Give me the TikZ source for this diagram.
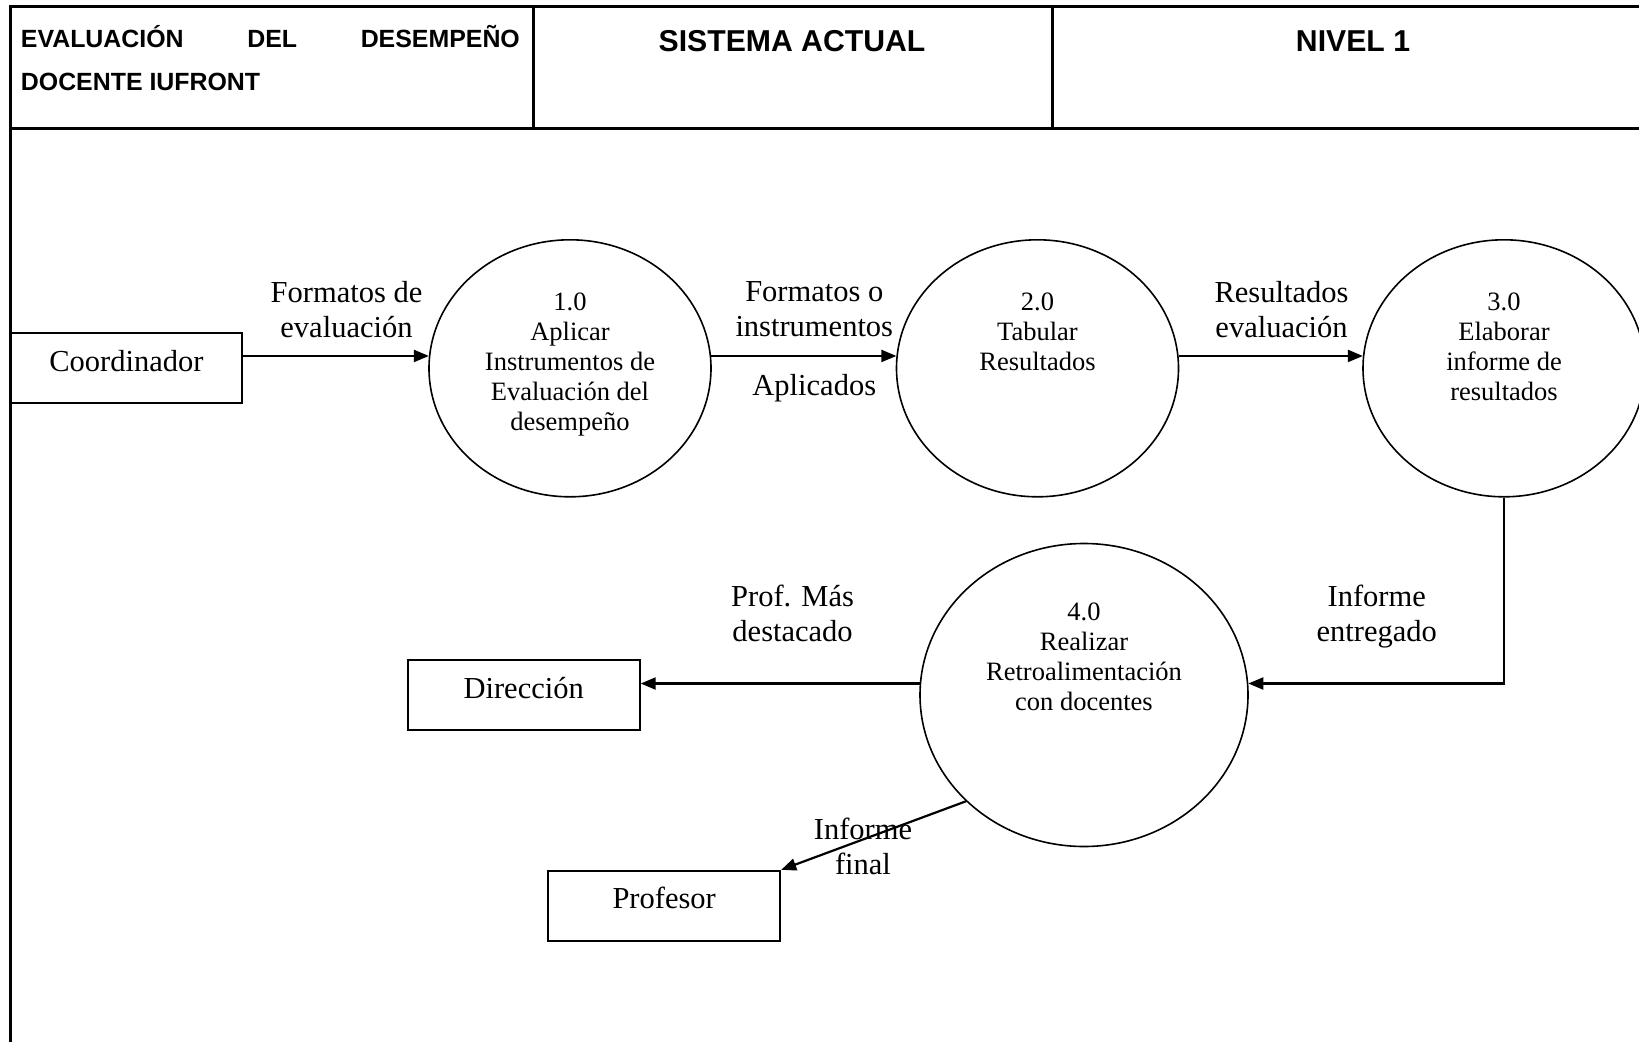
\documentclass[tikz,border=0pt]{standalone}
\usepackage{fontspec}
\setmainfont{Liberation Serif}
\newfontfamily\hdrfont{Liberation Sans}
\usetikzlibrary{arrows.meta,shapes.geometric,calc}
\begin{document}
\begin{tikzpicture}[x=1pt,y=-1pt,
  frameline/.style={line width=3pt},
  conn/.style={line width=2.2pt},
  arr/.style={conn,-{Triangle[length=15pt,width=12pt]}},
  entity/.style={draw,line width=2pt,minimum width=232pt,minimum height=70pt,inner sep=0pt,
    font=\fontsize{30.5}{35}\selectfont,text height=0.7em,text depth=0.1em},
  proc/.style={draw,ellipse,line width=1.6pt,inner sep=0pt},
  smallproc/.style={proc,minimum width=282pt,minimum height=257pt},
  bigproc/.style={proc,minimum width=328pt,minimum height=303pt},
  ptext/.style={anchor=north,align=center,inner sep=0pt,font=\fontsize{26.5}{30}\selectfont},
  flow/.style={align=center,inner sep=0pt,font=\fontsize{30.5}{35}\selectfont},
  hdr/.style={anchor=base,inner sep=0pt,font=\hdrfont\bfseries\fontsize{30.2}{36}\selectfont},
  hdrsmall/.style={anchor=base west,inner sep=0pt,font=\hdrfont\bfseries\fontsize{24.9}{30}\selectfont},
]
\useasboundingbox (0,0) rectangle (1639,1042);
\clip (0,0) rectangle (1639,1042);

% frame
\draw[frameline] (10.5,1042) -- (10.5,6.7) -- (1639,6.7);
\draw[frameline] (10.5,128.3) -- (1639,128.3);
\draw[frameline] (533,6.7) -- (533,128.3);
\draw[frameline] (1052.6,6.7) -- (1052.6,128.3);

% header
\node[hdrsmall] (h1a) at (20.7,47.5) {\hbox to 499pt{EVALUACIÓN\hfill DEL\hfill DESEMPEÑO}};
\node[hdrsmall] (h1b) at (20.7,90) {DOCENTE IUFRONT};
\node[hdr] (h2) at (792,51.5) {SISTEMA ACTUAL};
\node[hdr] (h3) at (1353,51.5) {NIVEL 1};

% entities
\node[entity] (coord) at (126.4,368) {Coordinador};
\node[entity] (dir) at (523.7,695) {Dirección};
\node[entity] (prof) at (664.2,905.8) {Profesor};

% processes
\node[smallproc] (c1) at (570,368.3) {};
\node[smallproc] (c2) at (1037.5,368.3) {};
\node[smallproc] (c3) at (1504,368.3) {};
\node[bigproc] (c4) at (1084,695) {};

\node[ptext] (t1) at (570,293) {1.0\\Aplicar\\Instrumentos de\\Evaluación del\\desempeño};
\node[ptext] (t2) at (1037.5,293) {2.0\\Tabular\\Resultados};
\node[ptext] (t3) at (1504,293) {3.0\\Elaborar\\informe de\\resultados};
\node[ptext] (t4) at (1084,603) {4.0\\Realizar\\Retroalimentación\\con docentes};

% flows
\draw[arr] (coord.east |- c1.175) -- (c1.175);
\draw[arr] (c1.5) -- (c2.175);
\draw[arr] (c2.5) -- (c3.175);
\draw[arr] (c3.south) |- (c4.4);
\draw[arr] (c4.176) -- (dir.east |- c4.176);
\draw[arr] (c4.222) -- (prof.north east);

% flow labels
\node[flow] (l1) at (346.5,309.5) {Formatos de\\evaluación};
\node[flow] (l2) at (814.3,309.5) {Formatos o\\instrumentos};
\node[flow] (l3) at (814.3,388.6) {Aplicados};
\node[flow] (l4) at (1281.5,309.5) {Resultados\\evaluación};
\node[flow] (l5) at (1376.7,617) {Informe\\entregado};
\node[flow] (l6) at (792.6,613.8) {Prof. Más\\destacado};
\node[flow] (l7) at (863,846.7) {Informe\\final};
\end{tikzpicture}
\end{document}
